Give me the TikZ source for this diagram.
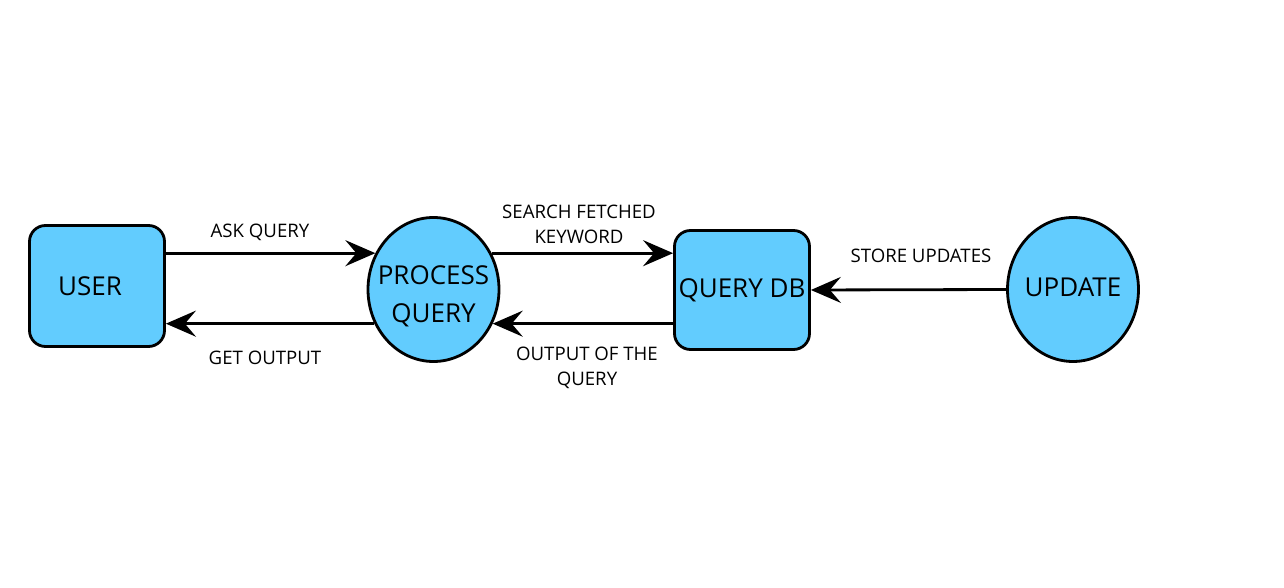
\documentclass[tikz,border=0pt]{standalone}
\usepackage{fontspec}
\setmainfont{Open Sans}
\usetikzlibrary{shapes.geometric,arrows.meta}
\definecolor{dfdblue}{HTML}{62CCFE}

\begin{document}
\begin{tikzpicture}[
    nodefont/.style={font=\fontsize{14.8}{21.6}\selectfont},
    entity/.style={draw,line width=1.6pt,fill=dfdblue,rounded corners=0.32cm,
      minimum width=2.7cm,minimum height=2.42cm,inner sep=0pt,nodefont},
    proc/.style={draw,line width=1.6pt,fill=dfdblue,ellipse,
      minimum width=2.62cm,minimum height=2.88cm,inner sep=0pt},
    flow/.style={line width=1.6pt,-{Stealth[length=0.6cm,width=0.52cm,inset=0.22cm]}},
    lbl/.style={align=center,font=\fontsize{10.6}{14.2}\selectfont}]
      \useasboundingbox (0,0) rectangle (25.68,-11.76);
      \node[entity,label={[nodefont,xshift=-0.14cm]center:USER}] (user) at (1.94,-5.72) {};
      \node[proc,label={[nodefont,align=center,yshift=-0.14cm]center:PROCESS\\QUERY}] (pq) at (8.67,-5.79) {};
      \node[entity,minimum height=2.38cm] (qdb) at (14.84,-5.80) {QUERY DB};
      \node[proc,label={[nodefont,yshift=0.04cm]center:UPDATE}] (upd) at (21.46,-5.79) {};
      %% flows
      \draw[flow] (user.east |- pq.148) -- (pq.148);
      \draw[flow] (pq.210) -- (user.east |- pq.210);
      \draw[flow] (pq.32) -- (qdb.west |- pq.32);
      \draw[flow] (qdb.west |- pq.-30) -- (pq.-30);
      \draw[flow] (upd.west) -- (qdb.east);
      %% labels
      \node[lbl] (askq) at (5.20,-4.64) {ASK QUERY};
      \node[lbl] (geto) at (5.30,-7.16) {GET OUTPUT};
      \node[lbl] (search) at (11.58,-4.49) {SEARCH FETCHED\\KEYWORD};
      \node[lbl] (outq) at (11.74,-7.36) {OUTPUT OF THE\\QUERY};
      \node[lbl] (store) at (18.42,-5.12) {STORE UPDATES};
    \end{tikzpicture}
\end{document}
